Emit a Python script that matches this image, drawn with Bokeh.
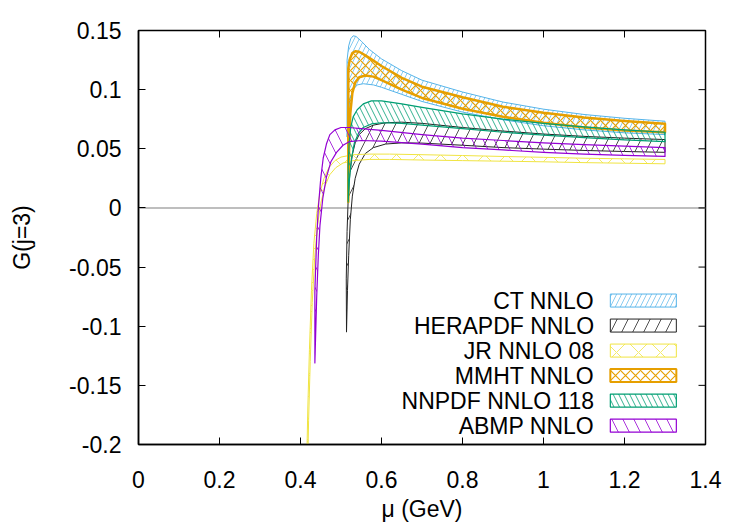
from bokeh.plotting import figure
from bokeh.models import FixedTicker, Span, Range1d
from bokeh.embed import file_html
from bokeh.resources import INLINE
from bokeh.core.properties import value

# ---------------------------------------------------------------------------
# G(j=3) uncertainty bands versus mu (GeV) for several NNLO PDF sets.
# Each band is given by its upper and lower edge.
# ---------------------------------------------------------------------------

set_names = ["CT NNLO", "HERAPDF NNLO", "JR NNLO 08", "MMHT NNLO",
             "NNPDF NNLO 118", "ABMP NNLO"]

# CT NNLO
ct_mu_up = [0.515, 0.519, 0.524, 0.530, 0.537, 0.550, 0.570, 0.600, 0.650,
            0.700, 0.800, 0.900, 1.000, 1.100, 1.200, 1.300]
ct_g_up = [0.125, 0.137, 0.143, 0.1455, 0.145, 0.141, 0.134, 0.126, 0.116,
           0.108, 0.098, 0.0895, 0.0835, 0.079, 0.0758, 0.0733]
ct_mu_lo = [0.515, 0.518, 0.522, 0.530, 0.540, 0.555, 0.580, 0.600, 0.650,
            0.700, 0.800, 0.900, 1.000, 1.100, 1.200, 1.300]
ct_g_lo = [0.060, 0.080, 0.092, 0.100, 0.104, 0.105, 0.104, 0.102, 0.096,
           0.090, 0.081, 0.0745, 0.0695, 0.066, 0.0635, 0.062]

# HERAPDF NNLO
hera_mu_up = [0.513, 0.515, 0.518, 0.522, 0.528, 0.535, 0.545, 0.560, 0.580,
              0.610, 0.650, 0.700, 0.800, 0.900, 1.000, 1.100, 1.200, 1.300]
hera_g_up = [-0.060, -0.020, 0.010, 0.030, 0.045, 0.055, 0.062, 0.067, 0.070,
             0.072, 0.0725, 0.0715, 0.068, 0.065, 0.0625, 0.0605, 0.059, 0.0578]
hera_mu_lo = [0.5136, 0.516, 0.519, 0.523, 0.528, 0.535, 0.545, 0.560, 0.580,
              0.610, 0.650, 0.700, 0.800, 0.900, 1.000, 1.100, 1.200, 1.300]
hera_g_lo = [-0.105, -0.070, -0.040, -0.010, 0.010, 0.025, 0.037, 0.046, 0.051,
             0.054, 0.055, 0.0548, 0.053, 0.051, 0.0497, 0.0486, 0.0477, 0.047]

# JR NNLO 08
jr_mu_up = [0.4145, 0.418, 0.422, 0.427, 0.433, 0.440, 0.448, 0.458, 0.470,
            0.485, 0.500, 0.530, 0.570, 0.620, 0.700, 0.800, 0.900, 1.000,
            1.100, 1.200, 1.300]
jr_g_up = [-0.230, -0.170, -0.120, -0.070, -0.030, -0.005, 0.013, 0.025, 0.034,
           0.040, 0.043, 0.045, 0.0455, 0.0455, 0.045, 0.0443, 0.0435, 0.0428,
           0.042, 0.0415, 0.041]
jr_mu_lo = [0.4165, 0.420, 0.424, 0.429, 0.435, 0.442, 0.450, 0.460, 0.472,
            0.487, 0.505, 0.530, 0.570, 0.620, 0.700, 0.800, 0.900, 1.000,
            1.100, 1.200, 1.300]
jr_g_lo = [-0.240, -0.180, -0.130, -0.080, -0.042, -0.015, 0.004, 0.018, 0.028,
           0.034, 0.038, 0.040, 0.041, 0.041, 0.0405, 0.040, 0.0395, 0.039,
           0.0383, 0.0378, 0.0373]

# MMHT NNLO
mmht_mu_up = [0.518, 0.522, 0.528, 0.535, 0.545, 0.560, 0.580, 0.600, 0.650,
              0.700, 0.800, 0.900, 1.000, 1.100, 1.200, 1.300]
mmht_g_up = [0.118, 0.126, 0.131, 0.1325, 0.132, 0.129, 0.1245, 0.120, 0.110,
             0.1025, 0.0935, 0.0855, 0.0805, 0.0765, 0.0735, 0.0711]
mmht_mu_lo = [0.518, 0.520, 0.523, 0.528, 0.535, 0.545, 0.560, 0.580, 0.600,
              0.650, 0.700, 0.800, 0.900, 1.000, 1.100, 1.200, 1.300]
mmht_g_lo = [0.005, 0.050, 0.080, 0.097, 0.106, 0.1105, 0.112, 0.111, 0.108,
             0.100, 0.093, 0.0838, 0.077, 0.072, 0.068, 0.0655, 0.064]

# NNPDF NNLO 118
nnpdf_mu_up = [0.5178, 0.520, 0.524, 0.530, 0.540, 0.555, 0.575, 0.600, 0.650,
               0.700, 0.800, 0.900, 1.000, 1.100, 1.200, 1.300]
nnpdf_g_up = [0.035, 0.055, 0.068, 0.077, 0.083, 0.088, 0.0905, 0.0905, 0.088,
              0.085, 0.0795, 0.075, 0.0715, 0.0685, 0.066, 0.064]
nnpdf_mu_lo = [0.5178, 0.521, 0.526, 0.533, 0.543, 0.555, 0.575, 0.600, 0.650,
               0.700, 0.800, 0.900, 1.000, 1.100, 1.200, 1.300]
nnpdf_g_lo = [0.005, 0.025, 0.042, 0.055, 0.063, 0.068, 0.071, 0.072, 0.0715,
              0.070, 0.067, 0.064, 0.0615, 0.0595, 0.0575, 0.056]

# ABMP NNLO
abmp_mu_up = [0.4355, 0.440, 0.444, 0.450, 0.456, 0.464, 0.4725, 0.485, 0.500,
              0.520, 0.550, 0.600, 0.700, 0.800, 0.900, 1.000, 1.100, 1.200,
              1.300]
abmp_g_up = [-0.070, -0.025, 0.000, 0.025, 0.042, 0.054, 0.062, 0.066, 0.068,
             0.068, 0.067, 0.0655, 0.062, 0.059, 0.057, 0.055, 0.0535, 0.0522,
             0.051]
abmp_mu_lo = [0.4355, 0.440, 0.444, 0.448, 0.455, 0.464, 0.475, 0.489, 0.505,
              0.520, 0.550, 0.600, 0.700, 0.800, 0.900, 1.000, 1.100, 1.200,
              1.300]
abmp_g_lo = [-0.131, -0.075, -0.040, -0.015, 0.008, 0.026, 0.039, 0.047, 0.053,
             0.056, 0.057, 0.0565, 0.054, 0.051, 0.049, 0.047, 0.0455, 0.0445,
             0.0435]

# axis ticks
x_ticks = [0.0, 0.2, 0.4, 0.6, 0.8, 1.0, 1.2, 1.4]
x_tick_labels = ["0", "0.2", "0.4", "0.6", "0.8", "1", "1.2", "1.4"]
y_ticks = [-0.2, -0.15, -0.1, -0.05, 0.0, 0.05, 0.1, 0.15]
y_tick_labels = ["-0.2", "-0.15", "-0.1", "-0.05", "0", "0.05", "0.1", "0.15"]

bands = {
    "CT NNLO": (ct_mu_up, ct_g_up, ct_mu_lo, ct_g_lo),
    "HERAPDF NNLO": (hera_mu_up, hera_g_up, hera_mu_lo, hera_g_lo),
    "JR NNLO 08": (jr_mu_up, jr_g_up, jr_mu_lo, jr_g_lo),
    "MMHT NNLO": (mmht_mu_up, mmht_g_up, mmht_mu_lo, mmht_g_lo),
    "NNPDF NNLO 118": (nnpdf_mu_up, nnpdf_g_up, nnpdf_mu_lo, nnpdf_g_lo),
    "ABMP NNLO": (abmp_mu_up, abmp_g_up, abmp_mu_lo, abmp_g_lo),
}

# drawing style of each band: colour, hatch pattern, hatch spacing, border width
styles = {
    "CT NNLO": dict(color="#56b4e9", hatch="/", scale=10, weight=0.7, lw=1.0),
    "HERAPDF NNLO": dict(color="#222222", hatch="/", scale=22, weight=0.8, lw=1.0),
    "JR NNLO 08": dict(color="#f0e442", hatch="x", scale=22, weight=0.8, lw=1.0),
    "MMHT NNLO": dict(color="#e69f00", hatch="x", scale=10, weight=1.1, lw=2.5),
    "NNPDF NNLO 118": dict(color="#009e73", hatch="\\", scale=11, weight=0.8, lw=1.2),
    "ABMP NNLO": dict(color="#9400d3", hatch="\\", scale=22, weight=0.8, lw=1.2),
}

FONT = "Liberation Sans"
FS = "23px"

X0, X1 = 0.0, 1.4
Y0, Y1 = -0.2, 0.15

p = figure(width=750, height=525, output_backend="svg", toolbar_location=None,
           x_range=Range1d(X0, X1), y_range=Range1d(Y0, Y1),
           min_border_left=138, min_border_right=45, min_border_top=30,
           min_border_bottom=81)
p.background_fill_color = "white"
p.border_fill_color = "white"
p.outline_line_color = "black"
p.outline_line_width = 1.5
p.xgrid.visible = False
p.ygrid.visible = False

# zero line
p.add_layout(Span(location=0, dimension="width", line_color="#a8a8a8",
                  line_width=1.5, level="underlay"))

for name in set_names:
    mu_up, g_up, mu_lo, g_lo = bands[name]
    st = styles[name]
    xs = list(mu_up) + list(reversed(mu_lo))
    ys = list(g_up) + list(reversed(g_lo))
    p.patch(xs, ys, fill_alpha=0, hatch_pattern=st["hatch"],
            hatch_color=st["color"], hatch_scale=st["scale"],
            hatch_weight=st["weight"], line_color=st["color"],
            line_width=st["lw"], line_join="round")

# key: right-aligned labels followed by a hatched sample box
key_text_x = 1.125
key_box_x0 = 1.165
key_box_x1 = 1.328
key_row0 = -0.0783
key_step = 0.02115
key_half_h = 0.0055
key_y = [key_row0 - i * key_step for i in range(len(set_names))]

p.text(x=[key_text_x] * len(set_names), y=key_y, text=set_names,
       text_align="right", text_baseline="middle",
       text_font=value(FONT), text_font_size=FS, text_color="black")
for name, yc in zip(set_names, key_y):
    st = styles[name]
    p.quad(left=key_box_x0, right=key_box_x1, bottom=yc - key_half_h,
           top=yc + key_half_h, fill_alpha=0, hatch_pattern=st["hatch"],
           hatch_color=st["color"], hatch_scale=st["scale"],
           hatch_weight=st["weight"], line_color=st["color"],
           line_width=min(st["lw"], 2.0))

# axes
xa = p.xaxis[0]
xa.ticker = FixedTicker(ticks=x_ticks)
xa.major_label_overrides = dict(zip(x_ticks, x_tick_labels))
xa.axis_label = "μ (GeV)"
xa.major_label_standoff = 26
xa.axis_label_standoff = 5

ya = p.yaxis[0]
ya.ticker = FixedTicker(ticks=y_ticks)
ya.major_label_overrides = dict(zip(y_ticks, y_tick_labels))
ya.axis_label = "G(j=3)"
ya.major_label_standoff = 17
ya.axis_label_standoff = 31

for ax in (xa, ya):
    ax.major_label_text_font = FONT
    ax.major_label_text_font_size = FS
    ax.major_label_text_color = "black"
    ax.axis_label_text_font = FONT
    ax.axis_label_text_font_size = FS
    ax.axis_label_text_font_style = "normal"
    ax.axis_label_text_color = "black"
    ax.major_tick_in = 7
    ax.major_tick_out = 0
    ax.minor_tick_line_color = None
    ax.axis_line_color = "black"
    ax.axis_line_width = 1.5
    ax.major_tick_line_color = "black"

# mirrored inward ticks on the top and right edges
tick_len_y = 7 * (Y1 - Y0) / 414.0
tick_len_x = 7 * (X1 - X0) / 567.0
p.segment(x0=x_ticks, y0=[Y1] * len(x_ticks), x1=x_ticks,
          y1=[Y1 - tick_len_y] * len(x_ticks), line_color="black", line_width=1)
p.segment(x0=[X1] * len(y_ticks), y0=y_ticks, x1=[X1 - tick_len_x] * len(y_ticks),
          y1=y_ticks, line_color="black", line_width=1)

open("out.html", "w").write(file_html(p, INLINE))
